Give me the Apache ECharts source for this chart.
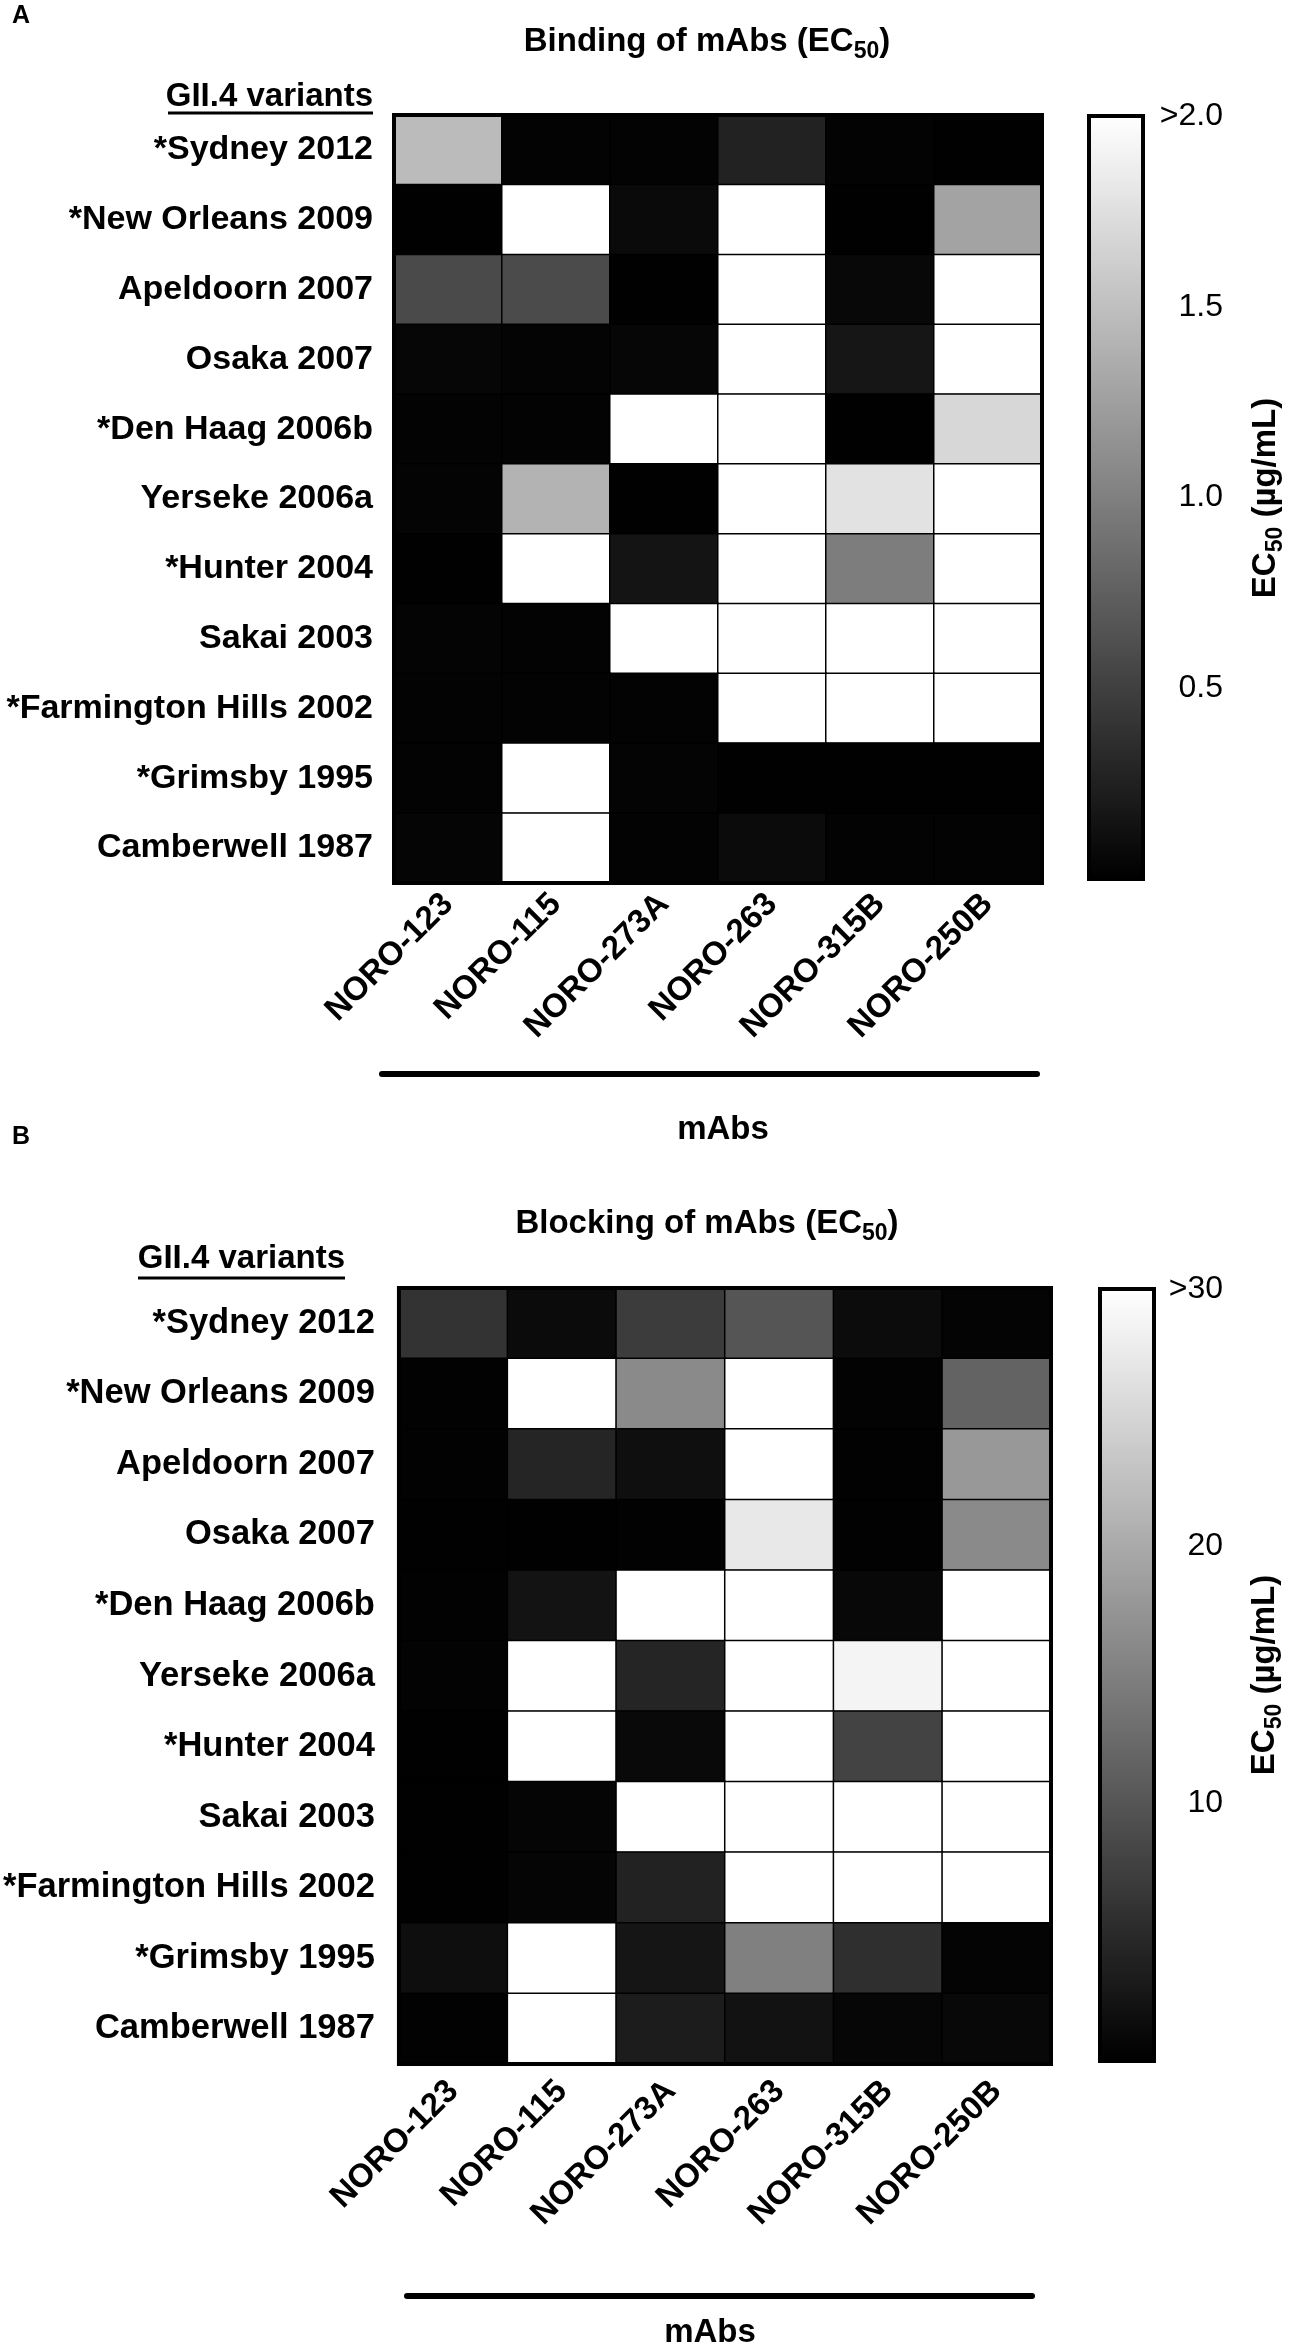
<!DOCTYPE html>
<html>
<head>
<meta charset="utf-8">
<title>Binding and blocking of mAbs (EC50)</title>
<script src="https://cdn.jsdelivr.net/npm/echarts@6/dist/echarts.min.js"></script>
<style>
  html, body { margin: 0; padding: 0; background: #fff; }
  #chart { width: 1290px; height: 2344px; }
</style>
</head>
<body>
<div id="chart"></div>
<script>
// rows = GII.4 variants (top to bottom), columns = mAbs
const variants = ["*Sydney 2012", "*New Orleans 2009", "Apeldoorn 2007", "Osaka 2007", "*Den Haag 2006b",
  "Yerseke 2006a", "*Hunter 2004", "Sakai 2003", "*Farmington Hills 2002", "*Grimsby 1995", "Camberwell 1987"];
const mabs = ["NORO-123", "NORO-115", "NORO-273A", "NORO-263", "NORO-315B", "NORO-250B"];

// binding EC50 (µg/mL), values above 2.0 shown as 2.0
const bindingEC50 = [
  [1.47, 0.02, 0.02, 0.27, 0.02, 0.01],
  [0.01, 2.0, 0.08, 2.0, 0.01, 1.28],
  [0.58, 0.59, 0.01, 2.0, 0.06, 2.0],
  [0.05, 0.03, 0.05, 2.0, 0.17, 2.0],
  [0.02, 0.02, 2.0, 2.0, 0.01, 1.69],
  [0.03, 1.40, 0.01, 2.0, 1.77, 2.0],
  [0.01, 2.0, 0.16, 2.0, 0.98, 2.0],
  [0.03, 0.02, 2.0, 2.0, 2.0, 2.0],
  [0.02, 0.02, 0.02, 2.0, 2.0, 2.0],
  [0.02, 2.0, 0.03, 0.01, 0.01, 0.01],
  [0.04, 2.0, 0.02, 0.09, 0.02, 0.02]
];

// blocking EC50 (µg/mL), values above 30 shown as 30
const blockingEC50 = [
  [6.0, 1.3, 7.1, 10.0, 1.4, 0.5],
  [0.2, 30, 16.2, 30, 0.3, 11.6],
  [0.2, 4.4, 1.8, 30, 0.2, 17.9],
  [0.1, 0.1, 0.2, 27.3, 0.2, 16.2],
  [0.2, 2.2, 30, 30, 0.9, 30],
  [0.4, 30, 4.4, 30, 28.7, 30],
  [0.1, 30, 1.1, 30, 7.9, 30],
  [0.1, 0.6, 30, 30, 30, 30],
  [0.1, 0.6, 4.0, 30, 30, 30],
  [1.6, 30, 2.5, 15.1, 5.5, 0.5],
  [0.2, 30, 3.3, 2.1, 0.7, 0.9]
];

// colour bar ticks
const bindingMax = 2, bindingStep = 0.5;
const bindingTickLabels = ["", "0.5", "1.0", "1.5", ">2.0"];
const blockingMax = 30, blockingStep = 10;
const blockingTickLabels = ["", "10", "20", ">30"];

const FONT = "Liberation Sans";

function toCells(rows) {
  let out = [];
  rows.forEach(function (row, y) {
    row.forEach(function (v, x) { out.push([x, y, v]); });
  });
  return out;
}

function catX(grid, tickLen, margin) {
  return {
    type: "category", gridIndex: grid, data: mabs,
    axisLine: { show: false },
    axisTick: { alignWithLabel: true, length: tickLen, lineStyle: { color: "#000", width: 4 } },
    axisLabel: { rotate: 45, margin: margin, color: "#000", fontFamily: FONT, fontWeight: "bold", fontSize: 33 },
    splitLine: { show: false }
  };
}

function catY(grid, tickLen, margin, size) {
  return {
    type: "category", gridIndex: grid, data: variants, inverse: true,
    axisLine: { show: false },
    axisTick: { alignWithLabel: true, length: tickLen, lineStyle: { color: "#000", width: 4 } },
    axisLabel: { margin: margin, color: "#000", fontFamily: FONT, fontWeight: "bold", fontSize: size },
    splitLine: { show: false }
  };
}

function barAxis(grid, max, step, labels, margin) {
  return [{
    type: "value", gridIndex: grid, min: 0, max: max, interval: step, position: "right",
    axisLine: { show: false },
    axisTick: { inside: true, length: 10, lineStyle: { color: "#000", width: 3 } },
    axisLabel: {
      align: "right", margin: margin, color: "#000", fontFamily: FONT, fontSize: 32,
      formatter: function (v) { return labels[Math.round(v / step)]; }
    },
    splitLine: { show: false }
  }, {
    type: "value", gridIndex: grid, min: 0, max: max, interval: step, position: "left",
    axisLine: { show: false },
    axisTick: { inside: true, length: 10, lineStyle: { color: "#000", width: 3 } },
    axisLabel: { show: false },
    splitLine: { show: false }
  }];
}

// "EC" with a lowered "50"
function richTitle(x, y, pre, post, rot) {
  return {
    type: "text", x: x, y: y, rotation: rot || 0,
    style: {
      text: "{b|" + pre + "}{s|50}{b|" + post + "}",
      align: "center", verticalAlign: "middle", fill: "#000",
      font: "bold 33px '" + FONT + "'",
      rich: {
        b: { fontFamily: FONT, fontWeight: "bold", fontSize: 33, lineHeight: 36, fill: "#000" },
        s: { fontFamily: FONT, fontWeight: "bold", fontSize: 23, padding: [20, 0, 0, 0], verticalAlign: "bottom", fill: "#000" }
      }
    }
  };
}

function plainText(x, y, text, size, align) {
  return {
    type: "text", x: x, y: y,
    style: { text: text, align: align || "center", verticalAlign: "middle", fill: "#000", font: "bold " + size + "px '" + FONT + "'" }
  };
}

function hLine(x1, x2, y, w, cap) {
  return { type: "line", shape: { x1: x1, y1: y, x2: x2, y2: y }, style: { stroke: "#000", lineWidth: w, lineCap: cap || "butt" } };
}

let chart = echarts.init(document.getElementById("chart"));

let option = {
  animation: false,
  backgroundColor: "#fff",
  grid: [
    { left: 394, top: 115, width: 648, height: 768, show: true, borderColor: "#000", borderWidth: 4, z: 10 },
    { left: 394, top: 1288, width: 657, height: 776, show: true, borderColor: "#000", borderWidth: 4, z: 10 },
    { left: 1089, top: 116, width: 54, height: 763, show: true, borderColor: "#000", borderWidth: 4, z: 10 },
    { left: 1100, top: 1289, width: 54, height: 772, show: true, borderColor: "#000", borderWidth: 4, z: 10 }
  ],
  xAxis: [
    catX(0, 7, 16),
    catX(1, 14, 22),
    { type: "category", gridIndex: 2, data: [""], show: false },
    { type: "category", gridIndex: 3, data: [""], show: false }
  ],
  yAxis: [catY(0, 10, 21, 34), catY(1, 15, 24, 34.5)]
    .concat(barAxis(2, bindingMax, bindingStep, bindingTickLabels, 80))
    .concat(barAxis(3, blockingMax, blockingStep, blockingTickLabels, 69)),
  visualMap: [{
    type: "continuous", seriesIndex: 0, min: 0, max: bindingMax,
    left: 1089, top: 116, itemWidth: 54, itemHeight: 763, padding: 0,
    calculable: false, hoverLink: false,
    inRange: { color: ["#000000", "#ffffff"] }
  }, {
    type: "continuous", seriesIndex: 1, min: 0, max: blockingMax,
    left: 1100, top: 1289, itemWidth: 54, itemHeight: 772, padding: 0,
    calculable: false, hoverLink: false,
    inRange: { color: ["#000000", "#ffffff"] }
  }],
  series: [{
    name: "Binding", type: "heatmap", xAxisIndex: 0, yAxisIndex: 0,
    data: toCells(bindingEC50),
    itemStyle: { borderColor: "#000", borderWidth: 1.5 },
    emphasis: { disabled: true }
  }, {
    name: "Blocking", type: "heatmap", xAxisIndex: 1, yAxisIndex: 1,
    data: toCells(blockingEC50),
    itemStyle: { borderColor: "#000", borderWidth: 1.5 },
    emphasis: { disabled: true }
  }],
  graphic: [
    plainText(12, 16, "A", 25, "left"),
    plainText(12, 1137, "B", 25, "left"),
    richTitle(707, 42, "Binding of mAbs (EC", ")"),
    richTitle(707, 1224, "Blocking of mAbs (EC", ")"),
    plainText(373, 97, "GII.4 variants", 33, "right"),
    hLine(168, 373, 113, 3),
    plainText(345, 1259, "GII.4 variants", 33, "right"),
    hLine(138, 345, 1278, 3),
    richTitle(1266, 498, "EC", " (µg/mL)", Math.PI / 2),
    richTitle(1265, 1675, "EC", " (µg/mL)", Math.PI / 2),
    hLine(382, 1037, 1074, 6, "round"),
    hLine(407, 1032, 2296, 6, "round"),
    plainText(723, 1130, "mAbs", 33),
    plainText(710, 2333, "mAbs", 33)
  ]
};

chart.setOption(option, true);
</script>
</body>
</html>
